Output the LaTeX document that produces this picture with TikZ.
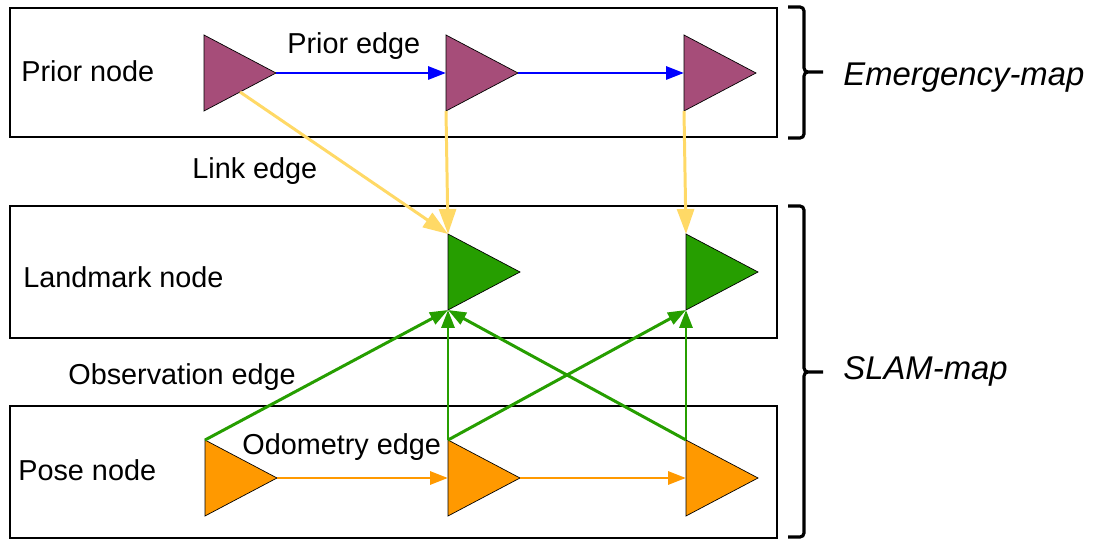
\documentclass[tikz,border=0pt]{standalone}
\usepackage{fontspec}
\setmainfont{Liberation Sans}
\usetikzlibrary{shapes.geometric,arrows.meta}
\definecolor{priorcol}{HTML}{A64D79}
\definecolor{landcol}{HTML}{269E00}
\definecolor{posecol}{HTML}{FF9900}
\definecolor{linkcol}{HTML}{FFD966}
\definecolor{priorblue}{HTML}{0000FF}
\begin{document}
\begin{tikzpicture}[x=0.02cm, y=-0.02cm,
    layer/.style={draw, line width=0.8pt, minimum width=15.34cm, inner sep=0},
    tri/.style={draw, line width=0.4pt, isosceles triangle, isosceles triangle stretches,
        minimum width=1.52cm, minimum height=1.44cm, inner sep=0, outer sep=0, anchor=left corner},
    lbl/.style={anchor=base west, inner sep=0, font=\fontsize{16.4}{19.7}\selectfont},
    edge/.style={line width=1.7pt, -{Triangle[length=0.36cm, width=0.26cm]}},
    link/.style={line width=1.7pt, linkcol, -{Triangle[length=0.5cm, width=0.34cm]}},
    mapbrace/.style={line width=1.8pt, rounded corners=0.08cm},
    maplbl/.style={anchor=base west, inner sep=0, font=\fontsize{18.7}{22.4}\selectfont\itshape}]
    \useasboundingbox (0,0) rectangle (1093,548);

    % Ebenen
    \node[layer, minimum height=2.58cm] (emap) at (393.5,72.5) {};
    \node[layer, minimum height=2.64cm] (lmap) at (393.5,272) {};
    \node[layer, minimum height=2.64cm] (pmap) at (393.5,472) {};

    % Knoten
    \node[tri, fill=priorcol] (p1) at (204,35) {};
    \node[tri, fill=priorcol] (p2) at (446,35) {};
    \node[tri, fill=priorcol] (p3) at (684,35) {};
    \node[tri, fill=landcol] (l1) at (448,234) {};
    \node[tri, fill=landcol] (l2) at (686,234) {};
    \node[tri, fill=posecol] (x1) at (205,440) {};
    \node[tri, fill=posecol] (x2) at (448,440) {};
    \node[tri, fill=posecol] (x3) at (686,440) {};

    % Kanten
    \draw[edge, priorblue] (p1.apex) -- (p2.west);
    \draw[edge, priorblue] (p2.apex) -- (p3.west);
    \draw[link] (p1.right side) -- (l1.left corner);
    \draw[link] (p2.right corner) -- (l1.left corner);
    \draw[link] (p3.right corner) -- (l2.left corner);
    \draw[edge, landcol] (x1.left corner) -- (l1.right corner);
    \draw[edge, landcol] (x2.left corner) -- (l1.right corner);
    \draw[edge, landcol] (x2.left corner) -- (l2.right corner);
    \draw[edge, landcol] (x3.left corner) -- (l1.right corner);
    \draw[edge, landcol] (x3.left corner) -- (l2.right corner);
    \draw[edge, posecol] (x1.apex) -- (x2.west);
    \draw[edge, posecol] (x2.apex) -- (x3.west);

    % Beschriftungen
    \node[lbl] (priorlbl) at (21,81) {Prior node};
    \node[lbl] (landlbl) at (23,287) {Landmark node};
    \node[lbl] (poselbl) at (18,480) {Pose node};
    \node[lbl] (prioredge) at (287,53) {Prior edge};
    \node[lbl] (linkedge) at (192,178) {Link edge};
    \node[lbl] (obsedge) at (68,384) {Observation edge};
    \node[lbl] (odoedge) at (242,454) {Odometry edge};

    % Klammern
    \draw[mapbrace] (788,7) -- (804,7) -- (804,72) -- (823,72)
        (823,72) -- (804,72) -- (804,138) -- (788,138);
    \draw[mapbrace] (788,206) -- (804,206) -- (804,372) -- (823,372)
        (823,372) -- (804,372) -- (804,537) -- (788,537);
    \node[maplbl] (emaplbl) at (843,85) {Emergency-map};
    \node[maplbl] (slamlbl) at (843,379) {SLAM-map};
\end{tikzpicture}
\end{document}
